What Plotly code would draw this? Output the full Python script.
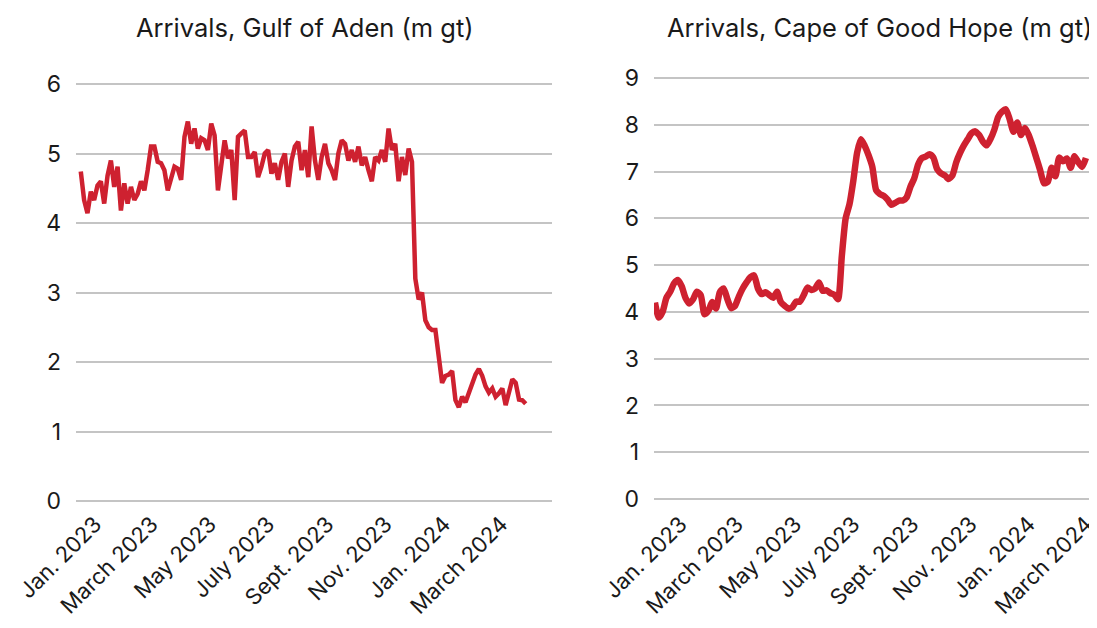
import pandas as pd
import plotly.graph_objects as go
from plotly.subplots import make_subplots

# ---------------- data ----------------
aden_start = "2022-12-17"
aden_step_hours = 84  # 3.5 days
aden_values = [
    4.74, 4.33, 4.14, 4.45, 4.33, 4.54, 4.60, 4.28, 4.68, 4.90,
    4.52, 4.81, 4.18, 4.57, 4.28, 4.52, 4.33, 4.42, 4.60, 4.47,
    4.76, 5.10, 5.10, 4.88, 4.86, 4.76, 4.47, 4.66, 4.81, 4.78,
    4.62, 5.24, 5.46, 5.14, 5.36, 5.07, 5.22, 5.19, 5.05, 5.43,
    5.26, 4.47, 4.81, 5.19, 4.93, 5.05, 4.33, 5.24, 5.29, 5.33,
    4.95, 4.95, 5.02, 4.66, 4.81, 5.00, 5.05, 4.71, 4.86, 4.62,
    4.88, 5.00, 4.52, 4.90, 5.10, 5.17, 4.76, 5.05, 4.66, 5.39,
    4.90, 4.62, 4.95, 5.14, 4.86, 4.76, 4.62, 5.00, 5.19, 5.14,
    4.90, 5.05, 4.88, 5.10, 4.83, 4.95, 4.76, 4.60, 4.95, 4.90,
    5.05, 4.88, 5.36, 5.05, 5.14, 4.60, 4.95, 4.69, 5.07, 4.88,
    3.20, 2.90, 3.00, 2.60, 2.50, 2.46, 2.46, 2.10, 1.70, 1.80,
    1.82, 1.87, 1.45, 1.35, 1.50, 1.42, 1.55, 1.70, 1.82, 1.90,
    1.80, 1.65, 1.56, 1.62, 1.50, 1.55, 1.62, 1.38, 1.60, 1.75,
    1.70, 1.46, 1.45, 1.40,
]

cape_start = "2022-12-05"
cape_step_days = 4
cape_values = [
    4.20, 3.88, 4.00, 4.30, 4.43, 4.61, 4.68, 4.55, 4.30, 4.18,
    4.27, 4.43, 4.36, 3.95, 4.02, 4.21, 4.07, 4.42, 4.50, 4.27,
    4.08, 4.13, 4.33, 4.50, 4.63, 4.74, 4.78, 4.50, 4.38, 4.42,
    4.36, 4.30, 4.43, 4.21, 4.13, 4.07, 4.10, 4.22, 4.22, 4.36,
    4.52, 4.47, 4.50, 4.63, 4.45, 4.46, 4.40, 4.37, 4.27, 5.20,
    6.00, 6.30, 6.80, 7.40, 7.69, 7.55, 7.35, 7.10, 6.60, 6.52,
    6.48, 6.40, 6.29, 6.33, 6.38, 6.38, 6.45, 6.68, 6.86, 7.15,
    7.29, 7.32, 7.37, 7.30, 7.05, 6.96, 6.92, 6.84, 6.92, 7.20,
    7.40, 7.56, 7.69, 7.82, 7.86, 7.78, 7.64, 7.56, 7.70, 7.90,
    8.17, 8.28, 8.33, 8.12, 7.85, 8.05, 7.78, 7.93, 7.78, 7.55,
    7.29, 7.03, 6.75, 6.78, 7.08, 6.90, 7.30, 7.22, 7.28, 7.08,
    7.33, 7.20, 7.10, 7.29,
]

tick_dates = ["2023-01-01", "2023-03-01", "2023-05-01", "2023-07-01",
              "2023-09-01", "2023-11-01", "2024-01-01", "2024-03-01"]
tick_labels = ["Jan. 2023", "March 2023", "May 2023", "July 2023",
               "Sept. 2023", "Nov. 2023", "Jan. 2024", "March 2024"]

titles = ["Arrivals, Gulf of Aden (m gt)", "Arrivals, Cape of Good Hope (m gt)"]

aden_dates = pd.date_range(aden_start, periods=len(aden_values), freq=f"{aden_step_hours}h")
cape_dates = pd.date_range(cape_start, periods=len(cape_values), freq=f"{cape_step_days}D")

# ---------------- figure ----------------
RED = "#CE2130"
FONT = "Inter"
W, H = 1097, 628

fig = make_subplots(rows=1, cols=2)
fig.add_trace(go.Scatter(x=aden_dates, y=aden_values, mode="lines",
                         line=dict(color=RED, width=4.5), showlegend=False), 1, 1)
fig.add_trace(go.Scatter(x=cape_dates, y=cape_values, mode="lines",
                         line=dict(color=RED, width=6.5, shape="spline", smoothing=0.6),
                         showlegend=False), 1, 2)

ydom = [1 - 498 / H, 1 - 63 / H]
common_x = dict(tickvals=tick_dates, ticktext=tick_labels, tickangle=-45,
                showgrid=False, zeroline=False, showline=False, ticks="",
                automargin=False,
                tickfont=dict(family=FONT, size=22, color="#1a1a1a"))
common_y = dict(showgrid=True, gridcolor="#C4C4C4", gridwidth=1.5, zeroline=False,
                showline=False, ticks="", ticklabelstandoff=14, automargin=False,
                tickfont=dict(family=FONT, size=23, color="#1a1a1a"), domain=ydom)

fig.update_xaxes(**common_x, domain=[68 / W, 544 / W],
                 range=["2022-12-12", "2024-04-23"], row=1, col=1)
fig.update_xaxes(**common_x, domain=[646 / W, 1.0],
                 range=["2022-12-04", "2024-03-21"], row=1, col=2)
fig.update_yaxes(**common_y, range=[-0.072, 6.187], tickvals=[0, 1, 2, 3, 4, 5, 6], row=1, col=1)
fig.update_yaxes(**common_y, range=[-0.15, 9.15], tickvals=list(range(10)), row=1, col=2)

for title, xc in zip(titles, [297 / W, 871 / W]):
    fig.add_annotation(text=title, x=xc, y=1 - 19 / H, xref="paper", yref="paper",
                       xanchor="center", yanchor="middle", showarrow=False,
                       font=dict(family=FONT, size=25.5, color="#1a1a1a"))

fig.update_layout(width=W, height=H, margin=dict(l=0, r=0, t=0, b=0),
                  paper_bgcolor="white", plot_bgcolor="white")

fig.write_html("out.html")
